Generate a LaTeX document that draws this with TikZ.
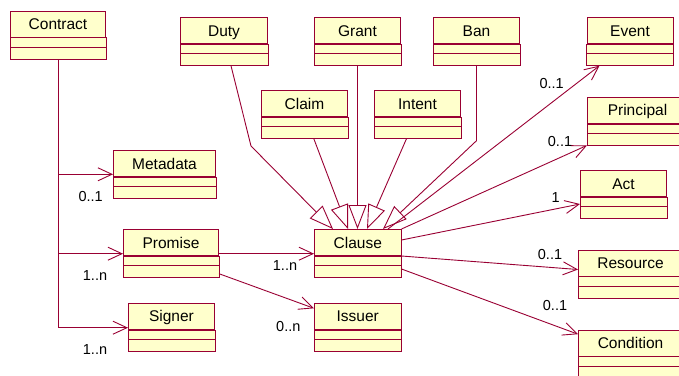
\documentclass[tikz,border=0pt]{standalone}
\usepackage{fontspec}
\setmainfont{Liberation Sans}
\usetikzlibrary{arrows.meta,calc}

\definecolor{roseline}{RGB}{153,0,51}
\definecolor{rosefill}{RGB}{255,255,204}

\tikzset{
  classname/.style={rectangle, draw=roseline, fill=rosefill, line width=1pt,
    anchor=north west, minimum height=26.3pt, inner sep=0pt, text=black,
    font=\fontsize{15.5}{18}\selectfont, text height=11.2pt, text depth=0pt},
  classpart/.style={draw=roseline, fill=rosefill, line width=1pt},
  mult/.style={inner sep=0pt, text=black, font=\fontsize{14.5}{17}\selectfont,
    text height=10.4pt, text depth=0pt},
  assoc/.style={draw=roseline, line width=0.9pt,
    -{Straight Barb[length=14pt,width=13pt]}},
  gen/.style={draw=roseline, line width=0.9pt,
    -{Triangle[open,length=24pt,width=18pt]}},
}

% a class box: name compartment (the node) plus two empty compartments
\newcommand\umlclass[5]{% #1 node name, #2 left, #3 top, #4 width, #5 class name
  \node[classname, minimum width=#4pt] (#1) at (#2,#3) {#5};
  \draw[classpart] (#1.south west) rectangle ($(#1.south east)+(0,9.6)$);
  \draw[classpart] ($(#1.south west)+(0,9.6)$) rectangle ($(#1.south east)+(0,21.4)$);
  \coordinate (#1-bot) at ($(#1.south)+(0,21.4)$);
  \coordinate (#1-sw) at ($(#1.south west)+(0,21.4)$);
}

\begin{document}
\begin{tikzpicture}[x=1pt, y=-1pt]
  \useasboundingbox (0,0) rectangle (679,375);
  \clip (0,0) rectangle (679,375);

  % classes
  \umlclass{contract}{10}{10.5}{95}{Contract}
  \umlclass{duty}{180}{17}{87}{Duty}
  \umlclass{grant}{314}{17}{86}{Grant}
  \umlclass{ban}{433}{17}{86}{Ban}
  \umlclass{claim}{261}{90}{86}{Claim}
  \umlclass{intent}{374}{90}{86}{Intent}
  \umlclass{event}{586.5}{17}{86}{Event}
  \umlclass{principal}{587}{96.7}{100}{Principal}
  \umlclass{act}{580}{170}{86}{Act}
  \umlclass{resource}{578}{249.5}{104}{Resource}
  \umlclass{condition}{578}{329.5}{104}{Condition}
  \umlclass{metadata}{113}{150}{102}{Metadata}
  \umlclass{promise}{123}{229}{95}{Promise}
  \umlclass{signer}{128}{302.7}{86}{Signer}
  \umlclass{clause}{314}{229}{86.5}{Clause}
  \umlclass{issuer}{314}{302.7}{86.5}{Issuer}

  % Contract compositions
  \coordinate (metadata-in) at ($(metadata.south west)+(0,-3)$);
  \coordinate (promise-in) at ($(promise.south west)+(0,-2.6)$);
  \coordinate (signer-in) at ($(signer.south west)+(0,-2.3)$);
  \draw[assoc] (contract-bot) -- (contract-bot |- signer-in) -- (signer-in);
  \draw[assoc] (contract-bot |- metadata-in) -- (metadata-in);
  \draw[assoc] (contract-bot |- promise-in) -- (promise-in);
  \node[mult] (m-metadata) at (90.7,196.7) {0..1};
  \node[mult] (m-promise) at (95,275) {1..n};
  \node[mult] (m-signer) at (95,349) {1..n};

  % Promise associations
  \coordinate (clause-in) at ($(clause.south west)+(0,-2.6)$);
  \draw[assoc] (promise.east |- clause-in) -- (clause-in);
  \draw[assoc] ($(promise.south east)+(0,17.4)$) -- ($(issuer.north west)+(0,5.6)$);
  \node[mult] (m-clause) at (285,265) {1..n};
  \node[mult] (m-issuer) at (288.3,326.7) {0..n};

  % generalizations into Clause
  \coordinate (duty-bend) at (251,146);
  \coordinate (ban-bend) at ($(ban-bot)+(0,75)$);
  \draw[gen] ($(duty-bot)+(7,0)$) -- (duty-bend) -- ($(clause.north west)+(19,0)$);
  \draw[gen] ($(claim-bot)+(9.3,0)$) -- ($(clause.north west)+(34,0)$);
  \draw[gen] (grant-bot) -- (grant-bot |- clause.north);
  \draw[gen] ($(intent-bot)+(-11,0)$) -- ($(clause.north west)+(53,0)$);
  \draw[gen] (ban-bot) -- (ban-bend) -- ($(clause.north west)+(69,0)$);

  % Clause associations
  \draw[assoc] ($(clause.north west)+(74,0)$) -- ($(event-bot)+(-30.5,0)$);
  \draw[assoc] (clause.north east) -- (principal-sw);
  \draw[assoc] ($(clause.north east)+(0,11)$) -- ($(act.north west)+(0,34)$);
  \draw[assoc] ($(clause.north east)+(0,27)$) -- ($(resource.north west)+(0,20)$);
  \draw[assoc] ($(clause.north east)+(0,40)$) -- ($(condition.north west)+(0,4.7)$);
  \node[mult] (m-event) at (551.7,83.3) {0..1};
  \node[mult] (m-principal) at (560,141.7) {0..1};
  \node[mult] (m-act) at (555.7,197.3) {1};
  \node[mult] (m-resource) at (550,254) {0..1};
  \node[mult] (m-condition) at (555,305.7) {0..1};
\end{tikzpicture}
\end{document}
